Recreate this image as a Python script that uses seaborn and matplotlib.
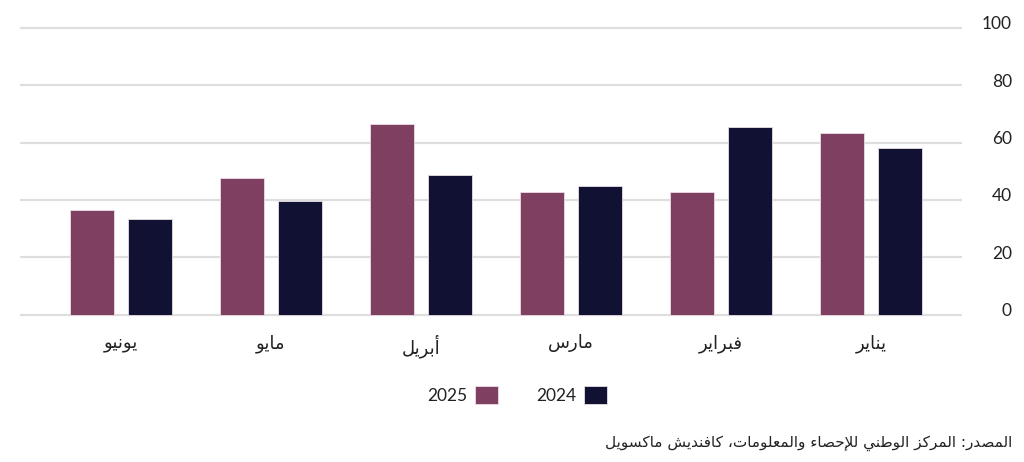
import matplotlib
matplotlib.use("Agg")
import matplotlib.pyplot as plt
import matplotlib.transforms as mtransforms
import seaborn as sns
import pandas as pd

# ---------------- data ----------------
months = ["يونيو", "مايو", "أبريل", "مارس", "فبراير", "يناير"]
values_2025 = [36.6, 47.8, 66.4, 42.8, 42.8, 63.3]
values_2024 = [33.4, 39.6, 48.8, 44.8, 65.3, 58.2]
years = ["2025", "2024"]
y_ticks = [0, 20, 40, 60, 80, 100]
source_text = "المصدر: المركز الوطني للإحصاء والمعلومات، كافنديش ماكسويل"

# ------------- minimal Arabic shaping (presentation forms + RTL) -------------
_TABLE = [
    (0x0621, 0xFE80, 1), (0x0622, 0xFE81, 2), (0x0623, 0xFE83, 2), (0x0624, 0xFE85, 2),
    (0x0625, 0xFE87, 2), (0x0626, 0xFE89, 4), (0x0627, 0xFE8D, 2), (0x0628, 0xFE8F, 4),
    (0x0629, 0xFE93, 2), (0x062A, 0xFE95, 4), (0x062B, 0xFE99, 4), (0x062C, 0xFE9D, 4),
    (0x062D, 0xFEA1, 4), (0x062E, 0xFEA5, 4), (0x062F, 0xFEA9, 2), (0x0630, 0xFEAB, 2),
    (0x0631, 0xFEAD, 2), (0x0632, 0xFEAF, 2), (0x0633, 0xFEB1, 4), (0x0634, 0xFEB5, 4),
    (0x0635, 0xFEB9, 4), (0x0636, 0xFEBD, 4), (0x0637, 0xFEC1, 4), (0x0638, 0xFEC5, 4),
    (0x0639, 0xFEC9, 4), (0x063A, 0xFECD, 4), (0x0641, 0xFED1, 4), (0x0642, 0xFED5, 4),
    (0x0643, 0xFED9, 4), (0x0644, 0xFEDD, 4), (0x0645, 0xFEE1, 4), (0x0646, 0xFEE5, 4),
    (0x0647, 0xFEE9, 4), (0x0648, 0xFEED, 2), (0x0649, 0xFEEF, 2), (0x064A, 0xFEF1, 4),
]
_FORMS = {chr(c): (b, n) for c, b, n in _TABLE}
_LAMALEF = {"\u0622": 0xFEF5, "\u0623": 0xFEF7, "\u0625": 0xFEF9, "\u0627": 0xFEFB}


def shape_ar(text):
    toks = []
    i = 0
    while i < len(text):
        ch = text[i]
        if ch == "\u0644" and i + 1 < len(text) and text[i + 1] in _LAMALEF:
            toks.append(("LA", _LAMALEF[text[i + 1]]))
            i += 2
        else:
            toks.append(("C", ch))
            i += 1

    def nforms(t):
        if t[0] == "LA":
            return 2
        return _FORMS[t[1]][1] if t[1] in _FORMS else 0

    out = []
    for k, t in enumerate(toks):
        n = nforms(t)
        if n == 0:
            out.append(t[1])
            continue
        prev_join = k > 0 and nforms(toks[k - 1]) == 4
        next_join = n == 4 and k + 1 < len(toks) and nforms(toks[k + 1]) >= 2
        base = t[1] if t[0] == "LA" else _FORMS[t[1]][0]
        if n == 1:
            idx = 0
        elif prev_join and next_join:
            idx = 3
        elif next_join:
            idx = 2
        elif prev_join:
            idx = 1
        else:
            idx = 0
        out.append(chr(base + idx))
    return "".join(reversed(out))


# ---------------- figure ----------------
sns.set_theme(style="white")
plt.rcParams["font.family"] = ["Lato", "DejaVu Sans"]

df = pd.DataFrame({
    "month": months * 2,
    "value": values_2025 + values_2024,
    "year": [years[0]] * len(months) + [years[1]] * len(months),
})

W, H = 1024, 462
fig = plt.figure(figsize=(W / 100, H / 100), dpi=100)
fig.patch.set_facecolor("white")

x0, x1 = 20, 962
y_top_px, y_bot_px = 25.1, 317.4
ax = fig.add_axes([x0 / W, 1 - y_bot_px / H, (x1 - x0) / W, (y_bot_px - y_top_px) / H])

palette = {"2025": "#7e3f61", "2024": "#111233"}
sns.barplot(data=df, x="month", y="value", hue="year", order=months,
            hue_order=years, palette=palette, width=0.773, gap=0.243,
            edgecolor="#e9dde4", linewidth=0.6, saturation=1, ax=ax, zorder=3)

ax.set_xlim(-0.673, len(months) - 1 + 0.607)
ax.set_ylim(-1, 101)
ax.set_yticks(y_ticks)
ax.set_yticklabels([str(v) for v in y_ticks])
ax.yaxis.grid(True, color="#dedede", linewidth=1.6, zorder=0)
ax.set_axisbelow(True)
for s in ax.spines.values():
    s.set_visible(False)
ax.set_xlabel("")
ax.set_ylabel("")

ax.yaxis.tick_right()
ax.tick_params(axis="y", length=0, pad=36, labelsize=12.5, labelcolor="#222222")
shift = mtransforms.ScaledTranslation(0, 5 / 100, fig.dpi_scale_trans)
for lab in ax.get_yticklabels():
    lab.set_horizontalalignment("right")
    lab.set_transform(lab.get_transform() + shift)

ax.set_xticks(range(len(months)))
ax.set_xticklabels([shape_ar(m) for m in months], family="DejaVu Sans",
                   fontsize=13, color="#222222")
ax.tick_params(axis="x", length=0, pad=12)

sns.move_legend(ax, loc="center", bbox_to_anchor=(517 / W, 1 - 395 / H),
                bbox_transform=fig.transFigure, ncol=2, title=None, frameon=False,
                markerfirst=False, handlelength=1.3, handleheight=1.3,
                handletextpad=0.45, columnspacing=2.2, fontsize=12.5)
for t in ax.get_legend().get_texts():
    t.set_color("#222222")

fig.text(1012 / W, 1 - 443 / H, shape_ar(source_text), family="DejaVu Sans",
         fontsize=11, ha="right", va="center", color="#222222")

fig.savefig("out.png", dpi=100, facecolor="white")
